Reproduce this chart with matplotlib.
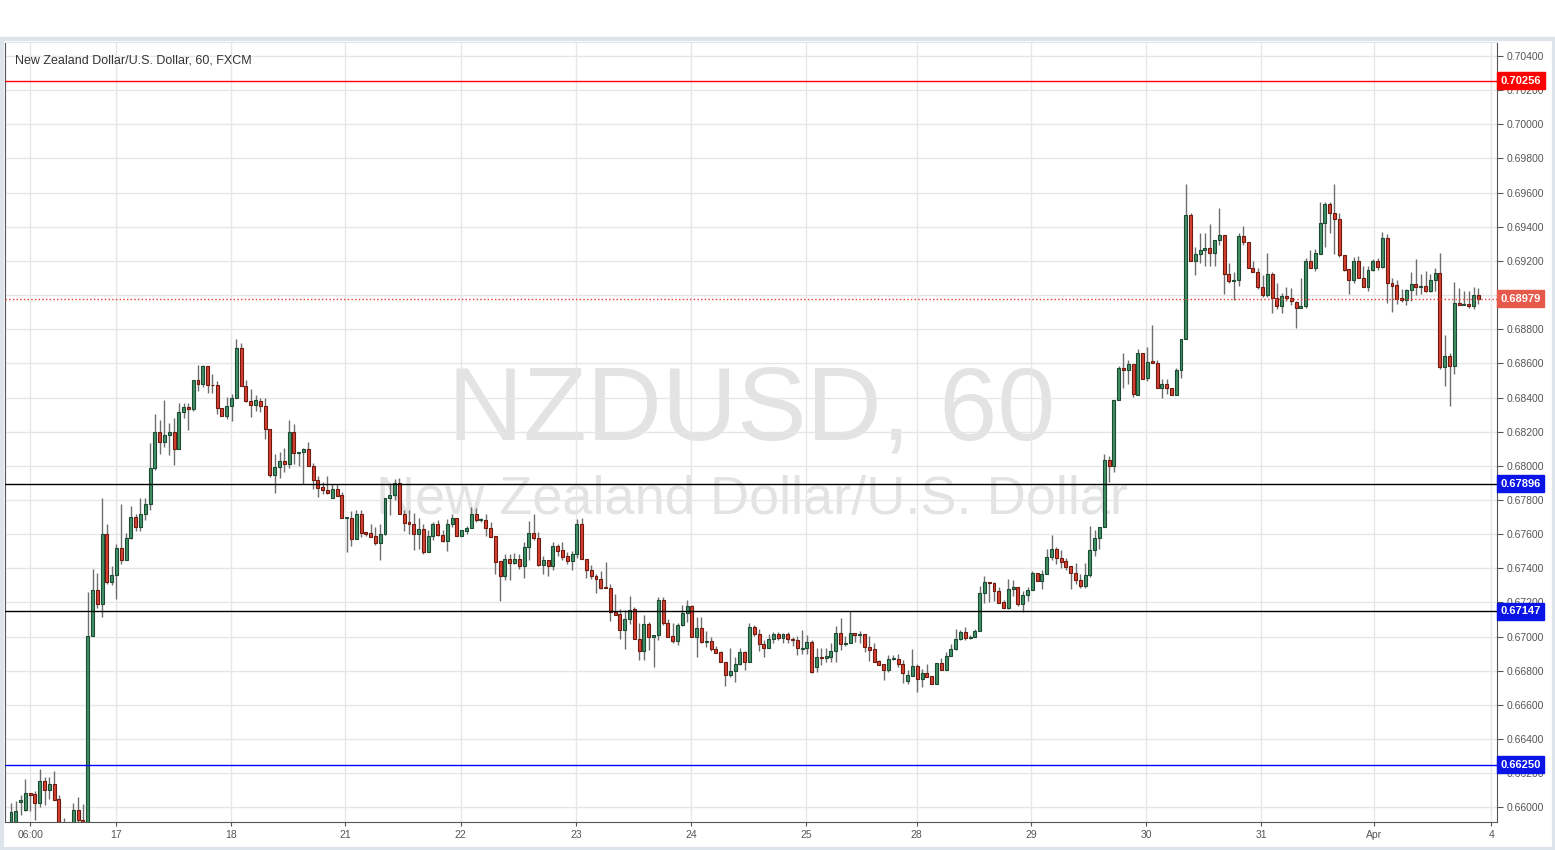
import numpy as np
import matplotlib
matplotlib.use("Agg")
import matplotlib.pyplot as plt
from matplotlib.patches import Rectangle
from matplotlib.transforms import blended_transform_factory

# hourly NZD/USD candles
opens = [
    0.65890, 0.65914, 0.66033, 0.65984, 0.66086, 0.66078, 0.66027, 0.66157, 0.66104, 0.66139,
    0.66047, 0.65880, 0.65860, 0.65880, 0.65986, 0.65927, 0.65880, 0.67004, 0.67275, 0.67192,
    0.67600, 0.67320, 0.67363, 0.67516, 0.67447, 0.67580, 0.67702, 0.67643, 0.67718, 0.67776,
    0.67986, 0.68198, 0.68137, 0.68180, 0.68198, 0.68098, 0.68316, 0.68345, 0.68331, 0.68500,
    0.68478, 0.68582, 0.68476, 0.68476, 0.68337, 0.68290, 0.68351, 0.68398, 0.68692, 0.68469,
    0.68382, 0.68355, 0.68382, 0.68353, 0.68215, 0.67945, 0.67994, 0.68029, 0.68013, 0.68200,
    0.68074, 0.68078, 0.68098, 0.67996, 0.67915, 0.67876, 0.67858, 0.67813, 0.67862, 0.67827,
    0.67694, 0.67692, 0.67574, 0.67715, 0.67611, 0.67604, 0.67588, 0.67549, 0.67603, 0.67809,
    0.67829, 0.67897, 0.67715, 0.67670, 0.67662, 0.67599, 0.67627, 0.67495, 0.67588, 0.67658,
    0.67597, 0.67560, 0.67662, 0.67697, 0.67588, 0.67619, 0.67638, 0.67720, 0.67682, 0.67685,
    0.67638, 0.67588, 0.67441, 0.67354, 0.67457, 0.67431, 0.67457, 0.67414, 0.67522, 0.67604,
    0.67580, 0.67418, 0.67447, 0.67414, 0.67529, 0.67506, 0.67471, 0.67441, 0.67486, 0.67659,
    0.67457, 0.67392, 0.67357, 0.67339, 0.67292, 0.67286, 0.67143, 0.67133, 0.67039, 0.67104,
    0.67161, 0.66984, 0.66917, 0.67074, 0.66996, 0.67010, 0.67215, 0.67078, 0.67004, 0.66976,
    0.67068, 0.67137, 0.67180, 0.66996, 0.67049, 0.66966, 0.66974, 0.66925, 0.66910, 0.66851,
    0.66776, 0.66796, 0.66839, 0.66910, 0.66853, 0.67055, 0.67016, 0.66957, 0.66932, 0.66985,
    0.67016, 0.66991, 0.67016, 0.66987, 0.66981, 0.66930, 0.66932, 0.66967, 0.66824, 0.66883,
    0.66877, 0.66883, 0.66916, 0.67020, 0.66955, 0.66961, 0.67020, 0.67012, 0.67016, 0.66938,
    0.66926, 0.66857, 0.66838, 0.66802, 0.66869, 0.66871, 0.66838, 0.66740, 0.66769, 0.66826,
    0.66753, 0.66789, 0.66767, 0.66720, 0.66847, 0.66806, 0.66885, 0.66926, 0.66985, 0.67024,
    0.66994, 0.66998, 0.67032, 0.67253, 0.67322, 0.67312, 0.67269, 0.67200, 0.67165, 0.67277,
    0.67290, 0.67188, 0.67241, 0.67270, 0.67370, 0.67325, 0.67364, 0.67466, 0.67511, 0.67458,
    0.67443, 0.67413, 0.67374, 0.67329, 0.67296, 0.67360, 0.67505, 0.67576, 0.67639, 0.68035,
    0.67996, 0.68388, 0.68570, 0.68560, 0.68599, 0.68417, 0.68658, 0.68515, 0.68613, 0.68604,
    0.68453, 0.68482, 0.68457, 0.68417, 0.68564, 0.68740, 0.69466, 0.69198, 0.69241, 0.69264,
    0.69276, 0.69247, 0.69323, 0.69353, 0.69123, 0.69080, 0.69088, 0.69343, 0.69313, 0.69159,
    0.69137, 0.69049, 0.69000, 0.69123, 0.68982, 0.68933, 0.68992, 0.68980, 0.68962, 0.68927,
    0.68933, 0.69202, 0.69157, 0.69241, 0.69423, 0.69535, 0.69482, 0.69447, 0.69235, 0.69153,
    0.69088, 0.69202, 0.69100, 0.69045, 0.69149, 0.69198, 0.69163, 0.69335, 0.69072, 0.69057,
    0.68982, 0.68970, 0.69027, 0.69063, 0.69047, 0.69051, 0.69023, 0.69086, 0.69131, 0.68576,
    0.68645, 0.68582, 0.68955, 0.68941, 0.68949, 0.68935, 0.68998,
]
highs = [
    0.66025, 0.66035, 0.66071, 0.66165, 0.66086, 0.66094, 0.66227, 0.66180, 0.66180, 0.66212,
    0.66071, 0.65937, 0.65900, 0.66025, 0.66059, 0.66020, 0.67259, 0.67394, 0.67371, 0.67810,
    0.67659, 0.67412, 0.67540, 0.67776, 0.67604, 0.67765, 0.67720, 0.67810, 0.67810, 0.68133,
    0.68306, 0.68267, 0.68388, 0.68251, 0.68280, 0.68365, 0.68365, 0.68365, 0.68500, 0.68588,
    0.68588, 0.68582, 0.68535, 0.68496, 0.68337, 0.68404, 0.68418, 0.68741, 0.68718, 0.68500,
    0.68447, 0.68412, 0.68400, 0.68400, 0.68215, 0.68072, 0.68078, 0.68104, 0.68270, 0.68247,
    0.68082, 0.68107, 0.68141, 0.68019, 0.67940, 0.67905, 0.67940, 0.67896, 0.67892, 0.67849,
    0.67700, 0.67735, 0.67739, 0.67739, 0.67611, 0.67660, 0.67641, 0.67660, 0.67809, 0.67897,
    0.67920, 0.67930, 0.67740, 0.67744, 0.67725, 0.67692, 0.67662, 0.67623, 0.67672, 0.67682,
    0.67623, 0.67686, 0.67715, 0.67697, 0.67623, 0.67646, 0.67760, 0.67750, 0.67697, 0.67720,
    0.67672, 0.67588, 0.67441, 0.67486, 0.67486, 0.67492, 0.67486, 0.67555, 0.67676, 0.67718,
    0.67614, 0.67471, 0.67447, 0.67555, 0.67545, 0.67555, 0.67496, 0.67502, 0.67686, 0.67696,
    0.67457, 0.67418, 0.67365, 0.67384, 0.67437, 0.67310, 0.67247, 0.67163, 0.67157, 0.67235,
    0.67176, 0.67078, 0.67127, 0.67088, 0.67010, 0.67231, 0.67231, 0.67102, 0.67078, 0.67082,
    0.67186, 0.67215, 0.67186, 0.67113, 0.67113, 0.67030, 0.67000, 0.66945, 0.66913, 0.66851,
    0.66931, 0.66882, 0.66931, 0.66917, 0.67078, 0.67068, 0.67043, 0.66977, 0.67016, 0.67024,
    0.67024, 0.67020, 0.67024, 0.66996, 0.67004, 0.67036, 0.67010, 0.66981, 0.66932, 0.66932,
    0.66932, 0.66961, 0.67059, 0.67108, 0.67004, 0.67147, 0.67020, 0.67030, 0.67016, 0.67004,
    0.66961, 0.66863, 0.66838, 0.66891, 0.66891, 0.66900, 0.66861, 0.66806, 0.66926, 0.66842,
    0.66812, 0.66838, 0.66767, 0.66847, 0.66877, 0.66910, 0.66955, 0.67043, 0.67041, 0.67057,
    0.67008, 0.67047, 0.67298, 0.67355, 0.67322, 0.67322, 0.67292, 0.67214, 0.67335, 0.67329,
    0.67290, 0.67266, 0.67290, 0.67384, 0.67370, 0.67388, 0.67511, 0.67594, 0.67525, 0.67505,
    0.67462, 0.67413, 0.67433, 0.67368, 0.67433, 0.67649, 0.67623, 0.67639, 0.68070, 0.68060,
    0.68388, 0.68584, 0.68662, 0.68619, 0.68599, 0.68682, 0.68662, 0.68696, 0.68825, 0.68617,
    0.68506, 0.68511, 0.68457, 0.68574, 0.68740, 0.69649, 0.69480, 0.69284, 0.69366, 0.69362,
    0.69419, 0.69323, 0.69507, 0.69353, 0.69188, 0.69133, 0.69362, 0.69407, 0.69313, 0.69198,
    0.69157, 0.69120, 0.69247, 0.69133, 0.69070, 0.69011, 0.69045, 0.69039, 0.68966, 0.69100,
    0.69217, 0.69261, 0.69270, 0.69545, 0.69545, 0.69545, 0.69653, 0.69482, 0.69235, 0.69153,
    0.69225, 0.69230, 0.69172, 0.69172, 0.69212, 0.69215, 0.69368, 0.69360, 0.69102, 0.69086,
    0.69037, 0.69033, 0.69135, 0.69210, 0.69121, 0.69141, 0.69125, 0.69160, 0.69249, 0.68768,
    0.68660, 0.69078, 0.69043, 0.69023, 0.69023, 0.69049, 0.69039,
]
lows = [
    0.65860, 0.65890, 0.65957, 0.65976, 0.65976, 0.65925, 0.66004, 0.66016, 0.66047, 0.66045,
    0.65850, 0.65840, 0.65830, 0.65860, 0.65890, 0.65850, 0.65860, 0.67004, 0.67167, 0.67114,
    0.67306, 0.67302, 0.67220, 0.67427, 0.67447, 0.67569, 0.67620, 0.67620, 0.67682, 0.67741,
    0.67973, 0.68070, 0.68110, 0.68065, 0.68002, 0.68098, 0.68280, 0.68208, 0.68320, 0.68437,
    0.68460, 0.68424, 0.68427, 0.68306, 0.68290, 0.68275, 0.68261, 0.68398, 0.68469, 0.68373,
    0.68286, 0.68320, 0.68313, 0.68157, 0.67935, 0.67839, 0.67931, 0.67966, 0.67990, 0.68009,
    0.67998, 0.67892, 0.67996, 0.67862, 0.67819, 0.67833, 0.67833, 0.67813, 0.67823, 0.67692,
    0.67496, 0.67529, 0.67574, 0.67582, 0.67588, 0.67584, 0.67539, 0.67451, 0.67593, 0.67711,
    0.67800, 0.67715, 0.67619, 0.67603, 0.67509, 0.67515, 0.67486, 0.67495, 0.67564, 0.67588,
    0.67554, 0.67501, 0.67643, 0.67588, 0.67588, 0.67603, 0.67638, 0.67672, 0.67672, 0.67589,
    0.67584, 0.67368, 0.67211, 0.67329, 0.67333, 0.67424, 0.67398, 0.67345, 0.67451, 0.67565,
    0.67414, 0.67369, 0.67353, 0.67388, 0.67471, 0.67451, 0.67427, 0.67388, 0.67463, 0.67453,
    0.67345, 0.67339, 0.67255, 0.67280, 0.67284, 0.67090, 0.67129, 0.66986, 0.66927, 0.67075,
    0.66984, 0.66862, 0.66862, 0.66921, 0.66823, 0.66980, 0.67068, 0.67000, 0.66960, 0.66951,
    0.67059, 0.67088, 0.66996, 0.66878, 0.66960, 0.66941, 0.66917, 0.66902, 0.66851, 0.66711,
    0.66764, 0.66733, 0.66833, 0.66804, 0.66853, 0.67004, 0.66918, 0.66883, 0.66932, 0.66961,
    0.66981, 0.66961, 0.66961, 0.66945, 0.66892, 0.66898, 0.66898, 0.66788, 0.66794, 0.66834,
    0.66853, 0.66853, 0.66853, 0.66922, 0.66945, 0.66961, 0.66971, 0.66965, 0.66912, 0.66859,
    0.66853, 0.66834, 0.66746, 0.66792, 0.66861, 0.66822, 0.66728, 0.66720, 0.66769, 0.66675,
    0.66704, 0.66763, 0.66720, 0.66720, 0.66806, 0.66806, 0.66885, 0.66920, 0.66979, 0.66979,
    0.66983, 0.66998, 0.67032, 0.67194, 0.67204, 0.67210, 0.67198, 0.67165, 0.67160, 0.67237,
    0.67178, 0.67145, 0.67211, 0.67270, 0.67325, 0.67280, 0.67364, 0.67447, 0.67427, 0.67403,
    0.67388, 0.67276, 0.67305, 0.67286, 0.67286, 0.67349, 0.67472, 0.67511, 0.67639, 0.67903,
    0.67962, 0.68388, 0.68458, 0.68480, 0.68403, 0.68417, 0.68506, 0.68496, 0.68600, 0.68453,
    0.68398, 0.68421, 0.68417, 0.68417, 0.68515, 0.68740, 0.69202, 0.69117, 0.69186, 0.69168,
    0.69168, 0.69168, 0.69296, 0.69009, 0.69068, 0.68970, 0.69055, 0.69296, 0.69157, 0.69133,
    0.69035, 0.68990, 0.68986, 0.68894, 0.68917, 0.68894, 0.68966, 0.68940, 0.68809, 0.68927,
    0.68923, 0.69157, 0.69143, 0.69241, 0.69284, 0.69362, 0.69241, 0.69221, 0.69139, 0.69006,
    0.69068, 0.69100, 0.69045, 0.69021, 0.69143, 0.69147, 0.69159, 0.68954, 0.68900, 0.68949,
    0.68958, 0.68943, 0.68964, 0.68999, 0.69004, 0.69017, 0.69017, 0.69023, 0.68566, 0.68470,
    0.68352, 0.68539, 0.68941, 0.68939, 0.68925, 0.68921, 0.68949,
]
closes = [
    0.65971, 0.65980, 0.66043, 0.66086, 0.66073, 0.66027, 0.66157, 0.66104, 0.66139, 0.66045,
    0.65880, 0.65860, 0.65880, 0.65986, 0.65925, 0.65870, 0.67006, 0.67275, 0.67192, 0.67600,
    0.67320, 0.67363, 0.67516, 0.67447, 0.67580, 0.67702, 0.67643, 0.67718, 0.67776, 0.67986,
    0.68198, 0.68137, 0.68180, 0.68198, 0.68098, 0.68316, 0.68345, 0.68331, 0.68500, 0.68478,
    0.68582, 0.68473, 0.68473, 0.68337, 0.68290, 0.68351, 0.68398, 0.68692, 0.68469, 0.68378,
    0.68355, 0.68386, 0.68351, 0.68215, 0.67945, 0.67994, 0.68029, 0.68013, 0.68200, 0.68074,
    0.68082, 0.68098, 0.67996, 0.67915, 0.67872, 0.67857, 0.67843, 0.67862, 0.67823, 0.67692,
    0.67698, 0.67574, 0.67715, 0.67607, 0.67602, 0.67584, 0.67549, 0.67598, 0.67809, 0.67829,
    0.67897, 0.67715, 0.67666, 0.67662, 0.67599, 0.67627, 0.67495, 0.67588, 0.67658, 0.67597,
    0.67560, 0.67662, 0.67697, 0.67588, 0.67623, 0.67638, 0.67720, 0.67685, 0.67686, 0.67638,
    0.67584, 0.67437, 0.67354, 0.67456, 0.67431, 0.67457, 0.67414, 0.67522, 0.67604, 0.67580,
    0.67418, 0.67447, 0.67414, 0.67529, 0.67502, 0.67467, 0.67441, 0.67486, 0.67659, 0.67453,
    0.67392, 0.67353, 0.67335, 0.67286, 0.67284, 0.67143, 0.67129, 0.67039, 0.67104, 0.67157,
    0.66984, 0.66917, 0.67074, 0.66996, 0.67010, 0.67215, 0.67078, 0.67000, 0.66976, 0.67068,
    0.67137, 0.67180, 0.66996, 0.67049, 0.66966, 0.66974, 0.66925, 0.66906, 0.66851, 0.66776,
    0.66796, 0.66839, 0.66910, 0.66853, 0.67055, 0.67014, 0.66955, 0.66932, 0.66985, 0.67016,
    0.66991, 0.67016, 0.66985, 0.66977, 0.66932, 0.66934, 0.66967, 0.66794, 0.66879, 0.66877,
    0.66887, 0.66916, 0.67020, 0.66955, 0.66961, 0.67020, 0.67010, 0.67016, 0.66938, 0.66922,
    0.66853, 0.66834, 0.66802, 0.66871, 0.66875, 0.66838, 0.66787, 0.66773, 0.66826, 0.66753,
    0.66789, 0.66763, 0.66724, 0.66847, 0.66806, 0.66885, 0.66926, 0.66985, 0.67024, 0.66994,
    0.67000, 0.67032, 0.67253, 0.67322, 0.67312, 0.67269, 0.67198, 0.67165, 0.67277, 0.67290,
    0.67188, 0.67241, 0.67270, 0.67370, 0.67325, 0.67364, 0.67466, 0.67511, 0.67458, 0.67439,
    0.67410, 0.67374, 0.67329, 0.67296, 0.67360, 0.67505, 0.67576, 0.67639, 0.68035, 0.67996,
    0.68388, 0.68570, 0.68560, 0.68599, 0.68419, 0.68658, 0.68511, 0.68609, 0.68604, 0.68453,
    0.68482, 0.68457, 0.68417, 0.68564, 0.68740, 0.69466, 0.69202, 0.69241, 0.69266, 0.69276,
    0.69247, 0.69323, 0.69353, 0.69123, 0.69080, 0.69090, 0.69343, 0.69310, 0.69157, 0.69133,
    0.69045, 0.69000, 0.69123, 0.68982, 0.68933, 0.68992, 0.68980, 0.68966, 0.68927, 0.68937,
    0.69202, 0.69157, 0.69245, 0.69423, 0.69535, 0.69480, 0.69447, 0.69235, 0.69149, 0.69088,
    0.69202, 0.69100, 0.69045, 0.69149, 0.69198, 0.69163, 0.69335, 0.69072, 0.69053, 0.68978,
    0.68970, 0.69027, 0.69063, 0.69047, 0.69051, 0.69023, 0.69086, 0.69131, 0.68576, 0.68645,
    0.68582, 0.68955, 0.68941, 0.68949, 0.68935, 0.68998, 0.68974,
]

# day labels on the time axis (position in candle index)
day_pos = [4, 21.9, 45.9, 69.7, 93.8, 117.8, 141.8, 165.8, 188.9, 212.7, 236.7, 260.7, 284.3, 308.7]
day_labels = ["06:00", "17", "18", "21", "22", "23", "24", "25", "28", "29", "30", "31", "Apr", "4"]

# horizontal levels drawn on the chart
levels = [0.70256, 0.68979, 0.67896, 0.67147, 0.66250]
level_line = ["#ff0000", "#e8392b", "#000000", "#000000", "#0000ff"]
level_box = ["#ff0000", "#e65a4b", "#0a14e6", "#0a14e6", "#0a14e6"]
level_style = ["-", ":", "-", "-", "-"]

plt.rcParams["font.family"] = ["Liberation Sans", "DejaVu Sans"]

o = np.array(opens)
h = np.array(highs)
l = np.array(lows)
c = np.array(closes)
x = np.arange(len(o))
up = c >= o

W, H = 1555, 850
fig = plt.figure(figsize=(W / 100, H / 100), dpi=100, facecolor="white")
fig.patches.append(Rectangle((1.5 / W, 1.5 / H), (W - 3) / W, (H - 40) / H,
                             transform=fig.transFigure, fill=False,
                             edgecolor="#dde4ec", lw=3))
ax = fig.add_axes([5 / W, (H - 822) / H, (1497 - 5) / W, (822 - 42) / H])

# watermark
ax.text(0.5007, 0.49, "NZDUSD, 60", transform=ax.transAxes, ha="center",
        va="baseline", fontsize=75, color="#e3e3e3", zorder=0)
ax.text(0.5007, 0.396, "New Zealand Dollar/U.S. Dollar", transform=ax.transAxes,
        ha="center", va="baseline", fontsize=39, color="#e3e3e3", zorder=0)

# candles
ax.vlines(x, l, h, color="#6e6e6e", lw=1, zorder=2)
bottom = np.minimum(o, c)
height = np.maximum(np.abs(c - o), 0.00003)
ax.bar(x[up], height[up], bottom=bottom[up], width=0.62, color="#3f9065",
       edgecolor="#1d4a32", linewidth=0.8, zorder=3)
ax.bar(x[~up], height[~up], bottom=bottom[~up], width=0.62, color="#d8412f",
       edgecolor="#6d1a10", linewidth=0.8, zorder=3)

# levels and their price boxes
trans = blended_transform_factory(ax.transAxes, ax.transData)
for lev, lc, bc, ls in zip(levels, level_line, level_box, level_style):
    ax.axhline(lev, color=lc, lw=1, ls=ls, zorder=4)
    ax.text(1.0025, lev, f"{lev:.5f}", transform=trans, ha="left", va="center",
            fontsize=8, color="white", fontweight="bold", zorder=6, clip_on=False,
            bbox=dict(boxstyle="square,pad=0.3", fc=bc, ec=bc))

ax.set_xlim(-1.25, 309.9)
ax.set_ylim(0.65914, 0.70482)

ax.yaxis.tick_right()
ax.set_yticks(np.arange(0.660, 0.7041, 0.002))
ax.yaxis.set_major_formatter(matplotlib.ticker.FormatStrFormatter("%.5f"))
ax.set_xticks(day_pos)
ax.set_xticklabels(day_labels)
ax.tick_params(axis="y", labelsize=7.5, colors="#555555", length=4, pad=3)
ax.tick_params(axis="x", labelsize=7.5, colors="#555555", length=3, pad=3)
ax.grid(True, color="#e6e6e6", lw=1, zorder=0)
ax.set_axisbelow(True)
for side in ["left", "right", "bottom"]:
    ax.spines[side].set_color("#555555")
ax.spines["top"].set_color("#dde4ec")

ax.text(0.0067, 0.976, "New Zealand Dollar/U.S. Dollar, 60, FXCM", transform=ax.transAxes,
        ha="left", va="center", fontsize=9, color="#333333", zorder=6)

fig.savefig("out.png", dpi=100, facecolor="white")
